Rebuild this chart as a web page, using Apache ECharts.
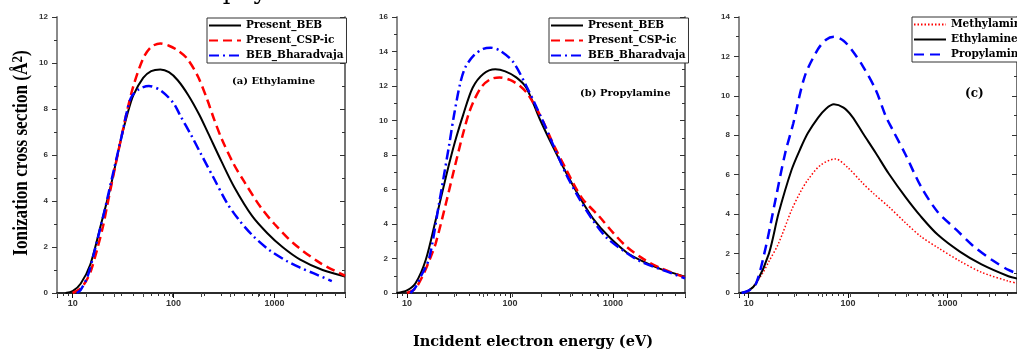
<!DOCTYPE html>
<html>
<head>
<meta charset="utf-8">
<script src="https://cdn.jsdelivr.net/npm/echarts@6/dist/echarts.min.js"></script>
<style>
  html, body { margin: 0; padding: 0; background: #fff; overflow: hidden; }
  #chart { width: 1017px; height: 351px; }
</style>
</head>
<body>
<div id="chart"></div>
<script>
// energies in eV, cross sections in A^2
// (a) Ethylamine
const ethylBEB = [[8.5,0],[10,0.08],[12,0.4],[15,1.25],[19,2.95],[24,4.7],[30,6.65],[35,7.8],[40,8.6],[50,9.35],[60,9.65],[74,9.72],[90,9.6],[110,9.25],[140,8.6],[180,7.75],[220,6.95],[300,5.7],[400,4.6],[600,3.35],[850,2.6],[1200,2.0],[1800,1.45],[3000,1.0],[5000,0.72]]
const ethylCSP = [[10,0],[12,0.2],[13.5,0.5],[15,0.9],[17.5,1.9],[20,2.9],[22,3.8],[26.7,5.6],[31,6.95],[35,8.0],[40,9.0],[50,10.2],[60,10.7],[74,10.85],[90,10.75],[110,10.55],[136,10.2],[175,9.4],[216,8.4],[250,7.6],[300,6.7],[395,5.6],[500,4.85],[725,3.75],[1000,3.0],[1550,2.15],[2850,1.3],[5000,0.75]]
const ethylBhar = [[11,0],[12,0.13],[14,0.7],[16.3,1.74],[20.4,3.46],[25.6,5.35],[30,6.65],[37.5,8.45],[45,8.85],[57,9.0],[75,8.8],[100,8.25],[117,7.7],[150,6.85],[185,6.08],[250,5.0],[340,3.9],[450,3.15],[624,2.45],[900,1.85],[1336,1.38],[1800,1.1],[2460,0.85],[3700,0.52]]

// (b) Propylamine
const propBEB = [[7.95,0],[10,0.15],[12.1,0.56],[15.2,1.91],[19,4.23],[23.9,6.74],[27,8.0],[30,9.0],[35,10.3],[43.4,11.9],[55,12.7],[72,12.97],[90,12.85],[115,12.5],[144,11.9],[194,10.1],[260,8.5],[353,6.94],[480,5.5],[643,4.3],[900,3.3],[1358,2.35],[2000,1.8],[2877,1.4],[5000,0.95]]
const propCSP = [[10,0],[12,0.25],[14.1,0.95],[16.5,1.9],[19,2.88],[23.9,5.2],[28.6,7.13],[34.4,9.06],[39.8,10.4],[45,11.2],[53.7,12.0],[65,12.4],[79,12.5],[100,12.35],[125,12.0],[150,11.5],[200,10.2],[260,8.7],[353,7.13],[500,5.5],[740,4.42],[1000,3.5],[1358,2.68],[2000,1.95],[2877,1.45],[5000,0.9]]
const propBhar = [[10.8,0],[12,0.3],[13.6,0.95],[16.4,2.0],[20.5,5.2],[25.7,8.6],[28.6,10.3],[33,12.2],[37,13.1],[45,13.8],[55,14.15],[65,14.22],[80,14.05],[107,13.4],[144,12.0],[200,10.2],[262,8.6],[350,6.9],[478,5.4],[650,4.15],[870,3.2],[1300,2.4],[1820,1.85],[3310,1.25],[5000,0.85]]

// (c) comparison
const methyl = [[9.5,0],[11,0.3],[13.8,1.0],[16,1.6],[20,2.52],[27,4.2],[33,5.1],[39.3,5.73],[53,6.49],[74.5,6.8],[100,6.35],[141,5.56],[180,5.05],[256,4.38],[380,3.55],[542,2.86],[800,2.3],[1330,1.62],[2200,1.05],[4100,0.6],[5000,0.5]]
const ethyl = [[8.2,0],[10,0.12],[11.9,0.49],[16,2.0],[20,4.04],[27,6.24],[33,7.3],[39.3,8.1],[50,8.9],[60,9.35],[72,9.57],[90,9.4],[110,8.95],[141,8.1],[190,7.1],[256,6.06],[380,4.85],[542,3.87],[800,2.95],[1330,2.1],[2200,1.45],[4100,0.85],[5000,0.74]]
const propyl = [[8.5,0],[10,0.12],[11.9,0.49],[14.9,2.35],[18.6,4.72],[23.3,7.09],[28.1,8.6],[36.6,10.98],[49.3,12.33],[60,12.85],[72,13.0],[90,12.8],[110,12.3],[141,11.5],[190,10.3],[238,9.0],[276,8.35],[380,7.0],[542,5.39],[800,4.1],[1232,3.2],[1800,2.4],[2810,1.67],[4100,1.17],[5000,1.0]]

const legendAB = ['Present_BEB', 'Present_CSP-ic', 'BEB_Bharadvaja']
const legendC = ['Methylamine', 'Ethylamine', 'Propylamine']
const panelLabels = ['(a) Ethylamine', '(b) Propylamine', '(c)']
const xTitle = 'Incident electron energy (eV)'
const yTitle = 'Ionization cross section (Å{s|2})'

const chart = echarts.init(document.getElementById('chart'))

const serif = 'DejaVu Serif'
const sans = 'Liberation Sans'
const grids = [
  { left: 57, top: 17, width: 288, height: 276 },
  { left: 397, top: 17, width: 288, height: 276 },
  { left: 739, top: 17, width: 288, height: 276 },
]
const xMin = [7, 8, 8]
const yMax = [12, 16, 14]

const xAxis = []
const yAxis = []
grids.forEach((g, i) => {
  xAxis.push({
    type: 'log', gridIndex: i, position: 'bottom', min: xMin[i], max: 5000, logBase: 10,
    axisLine: { lineStyle: { color: '#111', width: 1.5 } },
    axisTick: { inside: false, length: 5, lineStyle: { color: '#111' } },
    minorTick: { show: true, splitNumber: 9, length: 3, lineStyle: { color: '#333' } },
    axisLabel: {
      color: '#333', fontFamily: sans, fontWeight: 'bold', fontSize: 9, margin: 6,
      showMinLabel: false, showMaxLabel: false, formatter: v => String(Math.round(v)),
    },
    splitLine: { show: false },
  })
  xAxis.push({
    type: 'value', gridIndex: i, position: 'top', min: 0, max: 10, interval: 1,
    axisLine: { lineStyle: { color: '#222', width: 1.5 } },
    axisTick: { inside: true, length: 4, lineStyle: { color: '#444' } },
    axisLabel: { show: false },
    splitLine: { show: false },
  })
  yAxis.push({
    type: 'value', gridIndex: i, position: 'left', min: 0, max: yMax[i], interval: 2,
    axisLine: { show: true, lineStyle: { color: '#8a8a8a', width: 2 } },
    axisTick: { show: true, inside: false, length: 5, lineStyle: { color: '#333' } },
    minorTick: { show: true, splitNumber: 2, length: 3, lineStyle: { color: '#333' } },
    axisLabel: { color: '#333', fontFamily: sans, fontWeight: 'bold', fontSize: 8, margin: 9 },
    splitLine: { show: false },
  })
  yAxis.push({
    type: 'value', gridIndex: i, position: 'right', min: 0, max: yMax[i], interval: 2,
    axisLine: { show: true, lineStyle: { color: '#444', width: 1.5 } },
    axisTick: { show: true, inside: true, length: 5, lineStyle: { color: '#333' } },
    minorTick: { show: true, splitNumber: 2, length: 3, lineStyle: { color: '#333' } },
    axisLabel: { show: false },
    splitLine: { show: false },
  })
})

function line(name, data, panel, color, type, width) {
  return {
    name, type: 'line', data,
    xAxisIndex: panel * 2, yAxisIndex: panel * 2,
    smooth: 0.3, symbol: 'none',
    lineStyle: { color, type, width },
    itemStyle: { color },
    z: 3,
  }
}

const dashRed = [9, 5]
const dashDot = [10, 4, 2, 4]

const series = [
  line('Present_BEB', ethylBEB, 0, '#000', 'solid', 2),
  line('Present_CSP-ic', ethylCSP, 0, '#ff0000', dashRed, 2.5),
  line('BEB_Bharadvaja', ethylBhar, 0, '#0000ff', dashDot, 2.5),
  line('Present_BEB', propBEB, 1, '#000', 'solid', 2),
  line('Present_CSP-ic', propCSP, 1, '#ff0000', dashRed, 2.5),
  line('BEB_Bharadvaja', propBhar, 1, '#0000ff', dashDot, 2.5),
  line('Methylamine', methyl, 2, '#ff0000', [1.5, 2], 1.5),
  line('Ethylamine', ethyl, 2, '#000', 'solid', 2),
  line('Propylamine', propyl, 2, '#0000ff', [10, 6], 2.5),
]

const legendBase = {
  orient: 'vertical', itemWidth: 32, itemHeight: 10, itemGap: 4,
  padding: [2, 3, 2, 1], borderColor: '#333', borderWidth: 1, backgroundColor: '#fff',
  itemStyle: { opacity: 0 },
  textStyle: { fontFamily: serif, fontWeight: 'bold', fontSize: 10.5, color: '#000' },
  selectedMode: false,
}

chart.setOption({
  animation: false,
  backgroundColor: '#fff',
  grid: grids,
  xAxis, yAxis, series,
  legend: [
    { ...legendBase, data: legendAB, left: 207, top: 18 },
    { ...legendBase, data: legendAB, left: 549, top: 18 },
    { ...legendBase, data: legendC, left: 912, top: 17 },
  ],
  title: [
    { text: panelLabels[0], left: 232, top: 76, padding: 0, textStyle: { fontFamily: serif, fontWeight: 'bold', fontSize: 10, color: '#000' } },
    { text: panelLabels[1], left: 580, top: 88, padding: 0, textStyle: { fontFamily: serif, fontWeight: 'bold', fontSize: 10, color: '#000' } },
    { text: panelLabels[2], left: 965, top: 88, padding: 0, textStyle: { fontFamily: serif, fontWeight: 'bold', fontSize: 12, color: '#000' } },
  ],
  graphic: [
    {
      type: 'text', x: -3, y: -7,
      style: { text: 'al interest to astrophysics.', font: '24px "DejaVu Serif"', fill: '#000', verticalAlign: 'middle' },
    },
    {
      type: 'text', x: 533, y: 342,
      style: { text: xTitle, font: 'bold 14.5px "DejaVu Serif"', fill: '#000', align: 'center', verticalAlign: 'middle' },
    },
    {
      type: 'text', x: 22, y: 153, rotation: Math.PI / 2, scaleX: 0.86,
      style: {
        text: yTitle, font: 'bold 20px "Liberation Serif"', fill: '#000', align: 'center', verticalAlign: 'middle',
        rich: { s: { font: 'bold 15px "Liberation Serif"', fill: '#000', padding: [0, 0, 8, 0] } },
      },
    },
  ],
})
</script>
</body>
</html>
